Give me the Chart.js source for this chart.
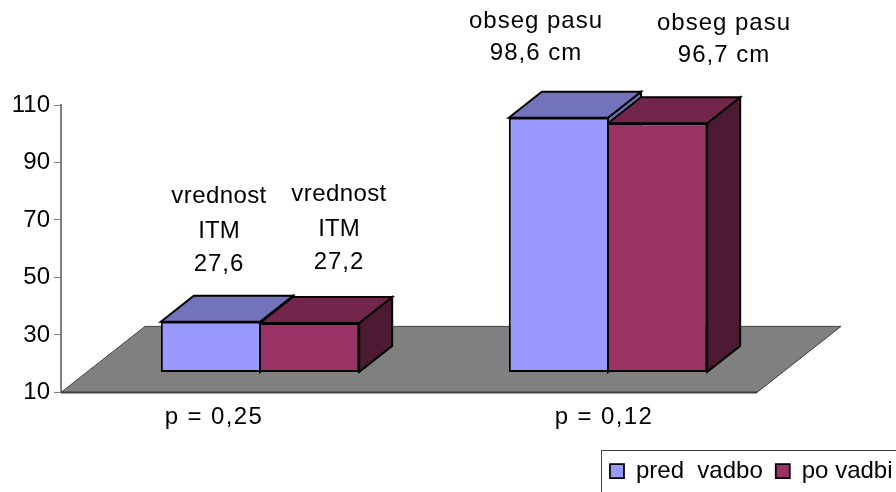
<!DOCTYPE html>
<html>
<head>
<meta charset="utf-8">
<title>Obseg pasu in ITM</title>
<script src="https://cdn.jsdelivr.net/npm/chart.js@4"></script>
<style>
  html, body { margin: 0; padding: 0; background: #fff; overflow: hidden; }
  canvas { display: block; }
</style>
</head>
<body>
<canvas id="chart" width="896" height="492"></canvas>
<script>
const categories = ["p = 0,25", "p = 0,12"];
const seriesNames = ["pred  vadbo", "po vadbi"];
const predVadbo = [27.6, 98.6];
const poVadbi = [27.2, 96.7];
const yMin = 10;
const yMax = 110;
const yStep = 20;
const predNotes = [["vrednost", "ITM", "27,6"], ["obseg pasu", "98,6 cm"]];
const poNotes = [["vrednost", "ITM", "27,2"], ["obseg pasu", "96,7 cm"]];

const FONT = "24px 'Liberation Sans'";

// the 3d look: bars stand in the middle of the floor
const floorDepth = { x: 84, y: 66 };
const barShift = { x: 25, y: -20 };
const barDepth = { x: 33, y: 26 };

function poly(ctx, pts, fill) {
  ctx.beginPath();
  pts.forEach((p, i) => (i ? ctx.lineTo(p[0], p[1]) : ctx.moveTo(p[0], p[1])));
  ctx.closePath();
  ctx.fillStyle = fill;
  ctx.fill();
  ctx.stroke();
}

function note(ctx, lines, x, ys, spacing) {
  lines.forEach((line, i) => {
    ctx.letterSpacing = spacing[i] + "px";
    ctx.fillText(line, x, ys[i]);
  });
}

const threeD = {
  id: "threeD",
  afterLayout(chart) {
    // legend box sits bottom right, partly cut off by the page
    const l = chart.legend;
    l.left = 597;
    l.right = 930;
    l.top = 446;
    l.bottom = 492;
  },
  beforeDatasetsDraw(chart) {
    const { ctx, chartArea: a } = chart;
    ctx.save();
    ctx.strokeStyle = "#404040";
    ctx.lineWidth = 1;
    poly(ctx, [
      [a.left, a.bottom],
      [a.left + floorDepth.x, a.bottom - floorDepth.y],
      [a.right + floorDepth.x, a.bottom - floorDepth.y],
      [a.right, a.bottom]
    ], "#808080");
    ctx.lineWidth = 2;
    ctx.beginPath();
    ctx.moveTo(a.left, a.bottom);
    ctx.lineTo(a.right, a.bottom);
    ctx.stroke();

    // side and top faces go first, chart.js then puts the fronts on top
    ctx.translate(barShift.x, barShift.y);
    ctx.strokeStyle = "#000";
    ctx.lineWidth = 2;
    chart.data.datasets.forEach((ds, i) => {
      chart.getDatasetMeta(i).data.forEach((bar) => {
        const p = bar.getProps(["x", "y", "base", "width"], true);
        const x0 = p.x - p.width / 2;
        const x1 = p.x + p.width / 2;
        const dx = barDepth.x;
        const dy = barDepth.y;
        poly(ctx, [[x1, p.y], [x1 + dx, p.y - dy], [x1 + dx, p.base - dy], [x1, p.base]], ds.sideColor);
        poly(ctx, [[x0, p.y], [x0 + dx, p.y - dy], [x1 + dx, p.y - dy], [x1, p.y]], ds.topColor);
      });
    });
  },
  afterDatasetsDraw(chart) {
    chart.ctx.restore();
  },
  afterDraw(chart) {
    const ctx = chart.ctx;
    ctx.save();
    ctx.font = FONT;
    ctx.fillStyle = "#000";
    ctx.textAlign = "center";
    ctx.textBaseline = "middle";
    // category labels are not under the bars in the original
    ctx.letterSpacing = "1.4px";
    ctx.fillText(categories[0], 214, 417);
    ctx.fillText(categories[1], 604, 417);
    note(ctx, predNotes[0], 219, [196, 231, 264], [0.4, 0, 1]);
    note(ctx, poNotes[0], 339, [194, 229, 262], [0.4, 0, 1]);
    note(ctx, predNotes[1], 536, [21, 53], [1, 1]);
    note(ctx, poNotes[1], 724, [23, 55], [1, 1]);
    // legend frame
    ctx.strokeStyle = "#404040";
    ctx.lineWidth = 1;
    ctx.strokeRect(601.5, 450.5, 400, 100);
    ctx.restore();
  }
};

new Chart(document.getElementById("chart"), {
  type: "bar",
  data: {
    labels: categories,
    datasets: [
      {
        label: seriesNames[0],
        data: predVadbo,
        base: yMin,
        backgroundColor: "#9999FF",
        topColor: "#7373BC",
        sideColor: "#7373BC",
        borderColor: "#000",
        borderWidth: { top: 2, bottom: 2, left: 2, right: 1 },
        borderSkipped: false,
        clip: false
      },
      {
        label: seriesNames[1],
        data: poVadbi,
        base: yMin,
        backgroundColor: "#993366",
        topColor: "#73264C",
        sideColor: "#4D1A33",
        borderColor: "#000",
        borderWidth: { top: 2, bottom: 2, left: 1, right: 2 },
        borderSkipped: false,
        clip: false
      }
    ]
  },
  options: {
    responsive: false,
    animation: false,
    devicePixelRatio: 1,
    categoryPercentage: 0.57,
    barPercentage: 1,
    layout: { padding: { top: 105, right: 139, bottom: 44.6 } },
    plugins: {
      tooltip: { enabled: false },
      legend: {
        position: "bottom",
        align: "start",
        labels: {
          color: "#000",
          font: { family: "'Liberation Sans'", size: 24 },
          boxWidth: 14,
          boxHeight: 14,
          padding: 13
        }
      }
    },
    scales: {
      x: {
        grid: { display: false },
        border: { display: false },
        ticks: { display: false }
      },
      y: {
        min: yMin,
        max: yMax,
        afterFit(scale) { scale.width = 61; },
        ticks: {
          stepSize: yStep,
          color: "#000",
          padding: 4,
          font: { family: "'Liberation Sans'", size: 24 }
        },
        grid: { drawOnChartArea: false, color: "#808080", tickLength: 7, tickWidth: 1 },
        border: { color: "#808080", width: 2 }
      }
    }
  },
  plugins: [threeD]
});
</script>
</body>
</html>
